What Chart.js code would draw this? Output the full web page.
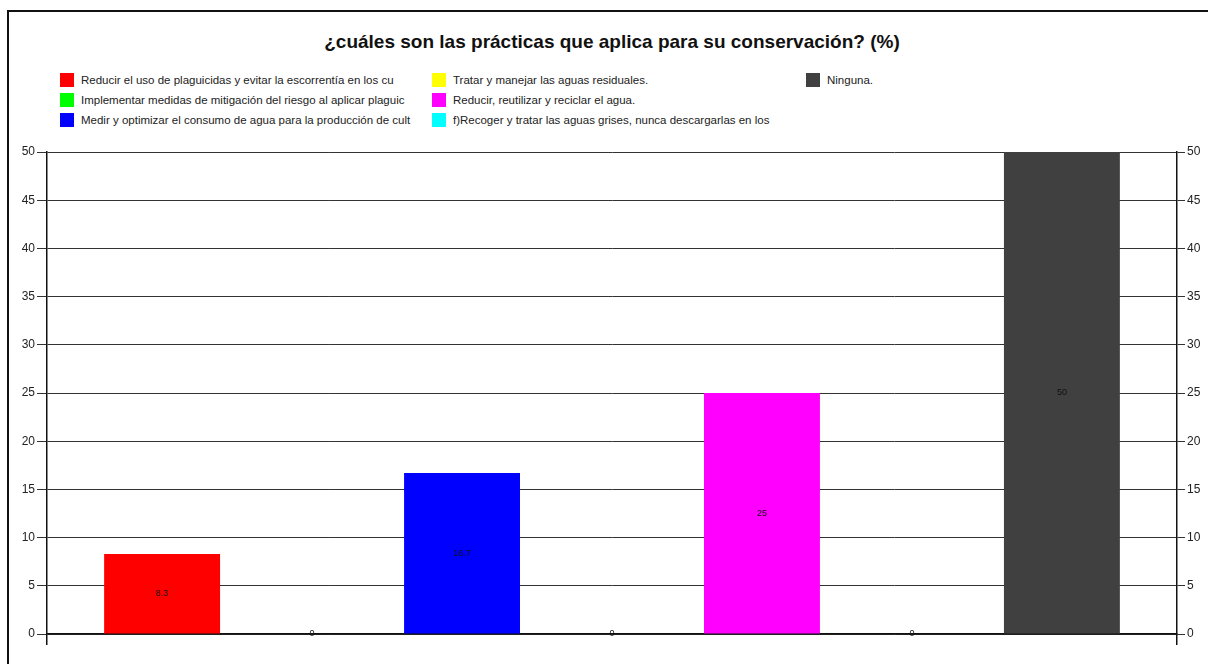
<!DOCTYPE html>
<html>
<head>
<meta charset="utf-8">
<script src="https://cdn.jsdelivr.net/npm/chart.js@4"></script>
<style>
  html, body { margin:0; padding:0; background:#fff; overflow:hidden; }
  body { width:1208px; height:664px; position:relative; font-family:"Liberation Sans", Arial, sans-serif; }
  #frame { position:absolute; left:7px; top:10px; width:1199px; height:652px; border-left:2px solid #111; border-top:2px solid #111; }
  #title { position:absolute; left:47px; width:1130px; top:31px; text-align:center; font-weight:bold; font-size:19px; color:#111; }
  #legend { position:absolute; left:0; top:0; }
  .item { position:absolute; font-size:11.5px; color:#222; white-space:nowrap; line-height:14px; }
  .item i { position:absolute; left:0; top:0; width:14px; height:14px; }
  .item span { position:absolute; left:21px; top:0; }
  canvas { position:absolute; left:0; top:0; }
</style>
</head>
<body>
<div id="frame"></div>
<div id="title">¿cuáles son las prácticas que aplica para su conservación? (%)</div>
<div id="legend"></div>
<canvas id="c" width="1208" height="664"></canvas>
<script>
const categories = [''];
const seriesNames = [
  'Reducir el uso de plaguicidas y evitar la escorrentía en los cu',
  'Implementar medidas de mitigación del riesgo al aplicar plaguic',
  'Medir y optimizar el consumo de agua para la producción de cult',
  'Tratar y manejar las aguas residuales.',
  'Reducir, reutilizar y reciclar el agua.',
  'f)Recoger y tratar las aguas grises, nunca descargarlas en los',
  'Ninguna.'
];
const seriesValues = [8.3, 0, 16.7, 0, 25, 0, 50];
const seriesColors = ['#ff0000', '#00ff00', '#0000ff', '#ffff00', '#ff00ff', '#00ffff', '#404040'];

// legend: 3 columns, filled top to bottom
const legendCols = [60, 432, 806];
const legendRows = [73, 93, 113];
const legendEl = document.getElementById('legend');
seriesNames.forEach((name, i) => {
  const d = document.createElement('div');
  d.className = 'item';
  d.style.left = legendCols[Math.floor(i / 3)] + 'px';
  d.style.top = legendRows[i % 3] + 'px';
  d.innerHTML = `<i style="background:${seriesColors[i]}"></i><span>${name}</span>`;
  legendEl.appendChild(d);
});

// value labels in the middle of each bar
const barLabels = {
  id: 'barLabels',
  afterDatasetsDraw(chart) {
    const ctx = chart.ctx;
    ctx.save();
    ctx.font = '9px "Liberation Sans", Arial, sans-serif';
    ctx.fillStyle = '#111';
    ctx.textAlign = 'center';
    ctx.textBaseline = 'middle';
    chart.data.datasets.forEach((ds, i) => {
      chart.getDatasetMeta(i).data.forEach((bar, j) => {
        ctx.fillText(String(ds.data[j]), bar.x, (bar.y + bar.base) / 2);
      });
    });
    ctx.restore();
  }
};

new Chart(document.getElementById('c'), {
  type: 'bar',
  data: {
    labels: categories,
    datasets: seriesNames.map((name, i) => ({
      label: name,
      data: [seriesValues[i]],
      backgroundColor: seriesColors[i],
      borderWidth: 0,
      categoryPercentage: 0.929,
      barPercentage: 0.773
    }))
  },
  options: {
    responsive: false,
    animation: false,
    layout: { padding: { top: 152, left: 0, right: 0, bottom: 0 } },
    plugins: {
      legend: { display: false },
      title: { display: false },
      tooltip: { enabled: false }
    },
    scales: {
      x: {
        offset: true,
        grid: { display: true, offset: true, drawOnChartArea: false, drawTicks: true, tickLength: 11, color: '#111', lineWidth: 1.5 },
        border: { color: '#111', width: 1.5 },
        ticks: { display: false },
        afterFit(s) { s.height = 30; }
      },
      y: {
        position: 'left',
        min: 0, max: 50,
        ticks: { stepSize: 5, color: '#222', padding: 2, font: { family: '"Liberation Sans", Arial, sans-serif', size: 12 } },
        grid: { color: '#333', tickLength: 10, lineWidth: 1 },
        border: { color: '#111', width: 1.5 },
        afterFit(s) { s.width = 47; }
      },
      y2: {
        position: 'right',
        min: 0, max: 50,
        ticks: { stepSize: 5, color: '#222', padding: 2, font: { family: '"Liberation Sans", Arial, sans-serif', size: 12 } },
        grid: { drawOnChartArea: false, color: '#333', tickLength: 8 },
        border: { color: '#111', width: 1.5 },
        afterFit(s) { s.width = 31; }
      }
    }
  },
  plugins: [barLabels]
});
</script>
</body>
</html>
